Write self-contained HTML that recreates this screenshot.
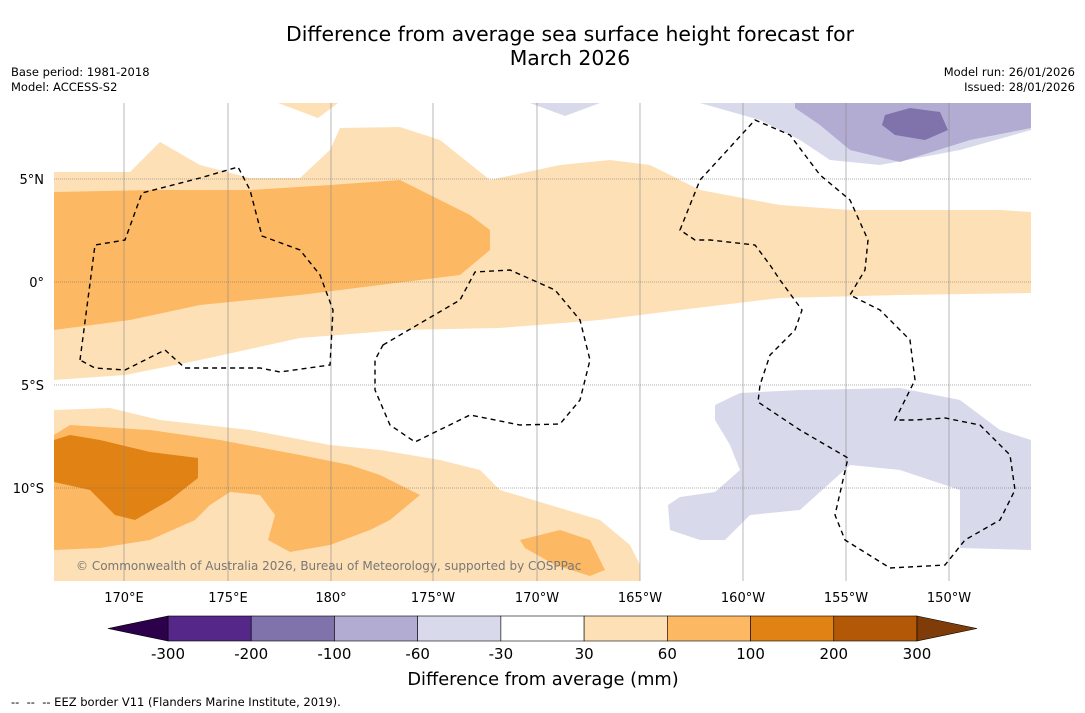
<!DOCTYPE html>
<html><head><meta charset="utf-8">
<style>
body{margin:0;background:#fff;font-family:"DejaVu Sans",sans-serif;}
.wrap{position:relative;width:1085px;height:713px;overflow:hidden;background:#fff}
.t{position:absolute;white-space:nowrap;color:#000}
</style></head><body>
<div class="wrap">
<div class="t" style="left:0;width:1140px;text-align:center;top:22px;font-size:20.4px;line-height:24px">Difference from average sea surface height forecast for<br>March 2026</div>
<div class="t" style="left:11px;top:65px;font-size:11.5px;line-height:15px">Base period: 1981-2018<br>Model: ACCESS-S2</div>
<div class="t" style="right:10px;top:65px;font-size:11.5px;line-height:15px;text-align:right">Model run: 26/01/2026<br>Issued: 28/01/2026</div>
<svg width="1085" height="713" style="position:absolute;left:0;top:0">
<defs><clipPath id="c"><rect x="54" y="103" width="977" height="478"/></clipPath></defs>
<g clip-path="url(#c)">
<path fill="#fee0b6" d="M54,172 L130,172 160,142 200,165 250,178 300,178 330,150 340,128 400,127 440,140 490,180 560,165 610,160 650,165 700,190 780,205 850,210 1000,210 1031,212 1031,293 900,295 780,298 680,310 600,320 500,328 400,330 300,338 200,360 125,375 54,380Z"/>
<path fill="#fee0b6" d="M278,103 L338,103 318,118Z"/>
<path fill="#fdb863" d="M54,192 L150,190 250,190 330,185 400,180 470,215 490,230 490,250 460,275 380,285 300,295 200,305 130,320 54,330Z"/>
<path fill="#d8daeb" d="M530,103 L600,103 565,116Z"/>
<path fill="#d8daeb" d="M670,103 L1031,103 1031,130 960,150 880,165 830,160 800,140 760,120 700,103Z"/>
<path fill="#b2abd2" d="M795,103 L1031,103 1031,128 970,140 900,162 850,150 820,125 795,108Z"/>
<path fill="#8073ac" d="M885,115 L910,108 940,112 948,130 925,140 895,135 882,125Z"/>
<path fill="#fee0b6" d="M54,410 L110,408 160,420 250,430 330,445 380,450 440,460 480,470 500,490 550,505 600,520 630,545 640,565 640,581 54,581Z"/>
<path fill="#fdb863" d="M54,435 L70,425 150,430 220,440 300,455 350,465 380,475 420,495 390,520 370,530 330,545 290,552 268,540 275,515 260,495 230,492 210,505 195,520 150,540 100,548 54,550Z"/>
<path fill="#fdb863" d="M520,540 L560,530 590,540 605,570 590,576 555,565 525,548Z"/>
<path fill="#e08214" d="M54,440 L70,435 100,440 150,452 198,458 198,478 170,500 135,520 115,515 90,490 54,482Z"/>
<path fill="#d8daeb" d="M715,405 L740,393 800,390 900,388 960,400 1000,430 1031,440 1031,550 960,548 960,490 900,470 850,465 800,510 750,515 725,540 700,540 670,530 668,505 680,497 715,492 740,470 730,445 715,420Z"/>
</g>
<g stroke="#888" stroke-width="0.6">
<line x1="124" y1="103" x2="124" y2="581"/><line x1="228" y1="103" x2="228" y2="581"/><line x1="331" y1="103" x2="331" y2="581"/><line x1="433" y1="103" x2="433" y2="581"/><line x1="537" y1="103" x2="537" y2="581"/><line x1="640" y1="103" x2="640" y2="581"/><line x1="743" y1="103" x2="743" y2="581"/><line x1="846" y1="103" x2="846" y2="581"/><line x1="949" y1="103" x2="949" y2="581"/>
<line x1="54" y1="179" x2="1031" y2="179" stroke-dasharray="1,1" stroke="#666"/><line x1="54" y1="282" x2="1031" y2="282" stroke-dasharray="1,1" stroke="#666"/><line x1="54" y1="385" x2="1031" y2="385" stroke-dasharray="1,1" stroke="#666"/><line x1="54" y1="488" x2="1031" y2="488" stroke-dasharray="1,1" stroke="#666"/>
</g>
<g fill="none" stroke="#000" stroke-width="1.4" stroke-dasharray="5,4">
<path d="M80,360 L95,245 125,240 142,193 200,178 238,167 250,190 262,236 300,250 320,275 333,310 330,365 280,372 260,368 185,368 165,350 125,370 95,368Z"/>
<path d="M383,345 L460,300 475,272 510,270 555,290 580,320 590,360 580,400 560,424 520,425 470,415 415,442 390,425 375,390 375,360Z"/>
<path d="M680,230 L700,180 755,120 790,135 820,175 850,200 868,240 865,270 850,295 880,310 910,340 915,380 905,400 895,420 915,420 945,418 980,425 1010,455 1015,490 1000,520 965,540 945,565 890,568 845,540 835,515 848,458 800,430 758,402 760,385 770,355 795,330 802,310 780,280 770,265 755,245 710,240 695,240Z"/>
</g>
<text x="76" y="570" font-size="12" fill="#777" font-family="DejaVu Sans">© Commonwealth of Australia 2026, Bureau of Meteorology, supported by COSPPac</text>
<g font-size="13" font-family="DejaVu Sans" fill="#000">
<text x="124" y="602" text-anchor="middle">170°E</text><text x="228" y="602" text-anchor="middle">175°E</text><text x="331" y="602" text-anchor="middle">180°</text><text x="433" y="602" text-anchor="middle">175°W</text><text x="537" y="602" text-anchor="middle">170°W</text><text x="640" y="602" text-anchor="middle">165°W</text><text x="743" y="602" text-anchor="middle">160°W</text><text x="846" y="602" text-anchor="middle">155°W</text><text x="949" y="602" text-anchor="middle">150°W</text>
<text x="44" y="184" text-anchor="end">5°N</text><text x="44" y="287" text-anchor="end">0°</text><text x="44" y="390" text-anchor="end">5°S</text><text x="44" y="493" text-anchor="end">10°S</text>
</g>
<g id="cbar"></g>
<text x="543" y="685" text-anchor="middle" font-size="17.8" font-family="DejaVu Sans">Difference from average (mm)</text>
<text x="11" y="706" font-size="11.5" font-family="DejaVu Sans">-- &#160;-- &#160;-- EEZ border V11 (Flanders Marine Institute, 2019).</text>
</svg>
</div>
<script>
const levels=[-300,-200,-100,-60,-30,30,60,100,200,300];
const binColors=["#542788","#8073ac","#b2abd2","#d8daeb","#ffffff","#fee0b6","#fdb863","#e08214","#b35806"];
const extendColors=["#2d004b","#7f3b08"];
const ns="http://www.w3.org/2000/svg";
const g=document.getElementById('cbar');
const x0=168,x1=917,y0=616,h=25,tri=60;
const xs=i=>x0+(x1-x0)*i/(levels.length-1);
binColors.forEach((c,i)=>{
 const r=document.createElementNS(ns,'rect');
 r.setAttribute('x',xs(i));r.setAttribute('y',y0);r.setAttribute('width',xs(i+1)-xs(i));r.setAttribute('height',h);
 r.setAttribute('fill',c);r.setAttribute('stroke','#000');r.setAttribute('stroke-width','0.6');
 
 
 g.appendChild(r);
});
[[x0,x0-tri,extendColors[0]],[x1,x1+tri,extendColors[1]]].forEach(([a,b,c])=>{
 const p=document.createElementNS(ns,'polygon');
 p.setAttribute('points',`${a},${y0} ${b},${y0+h/2} ${a},${y0+h}`);
 p.setAttribute('fill',c);p.setAttribute('stroke','#000');p.setAttribute('stroke-width','0.6');
 
 
 g.appendChild(p);
});
levels.forEach((v,i)=>{
 const t=document.createElementNS(ns,'text');
 t.setAttribute('x',xs(i));t.setAttribute('y',659);t.setAttribute('text-anchor','middle');
 t.setAttribute('font-size','15');t.setAttribute('font-family','DejaVu Sans');
 t.textContent=v;
 
 
 g.appendChild(t);
});
</script>
</body></html>
